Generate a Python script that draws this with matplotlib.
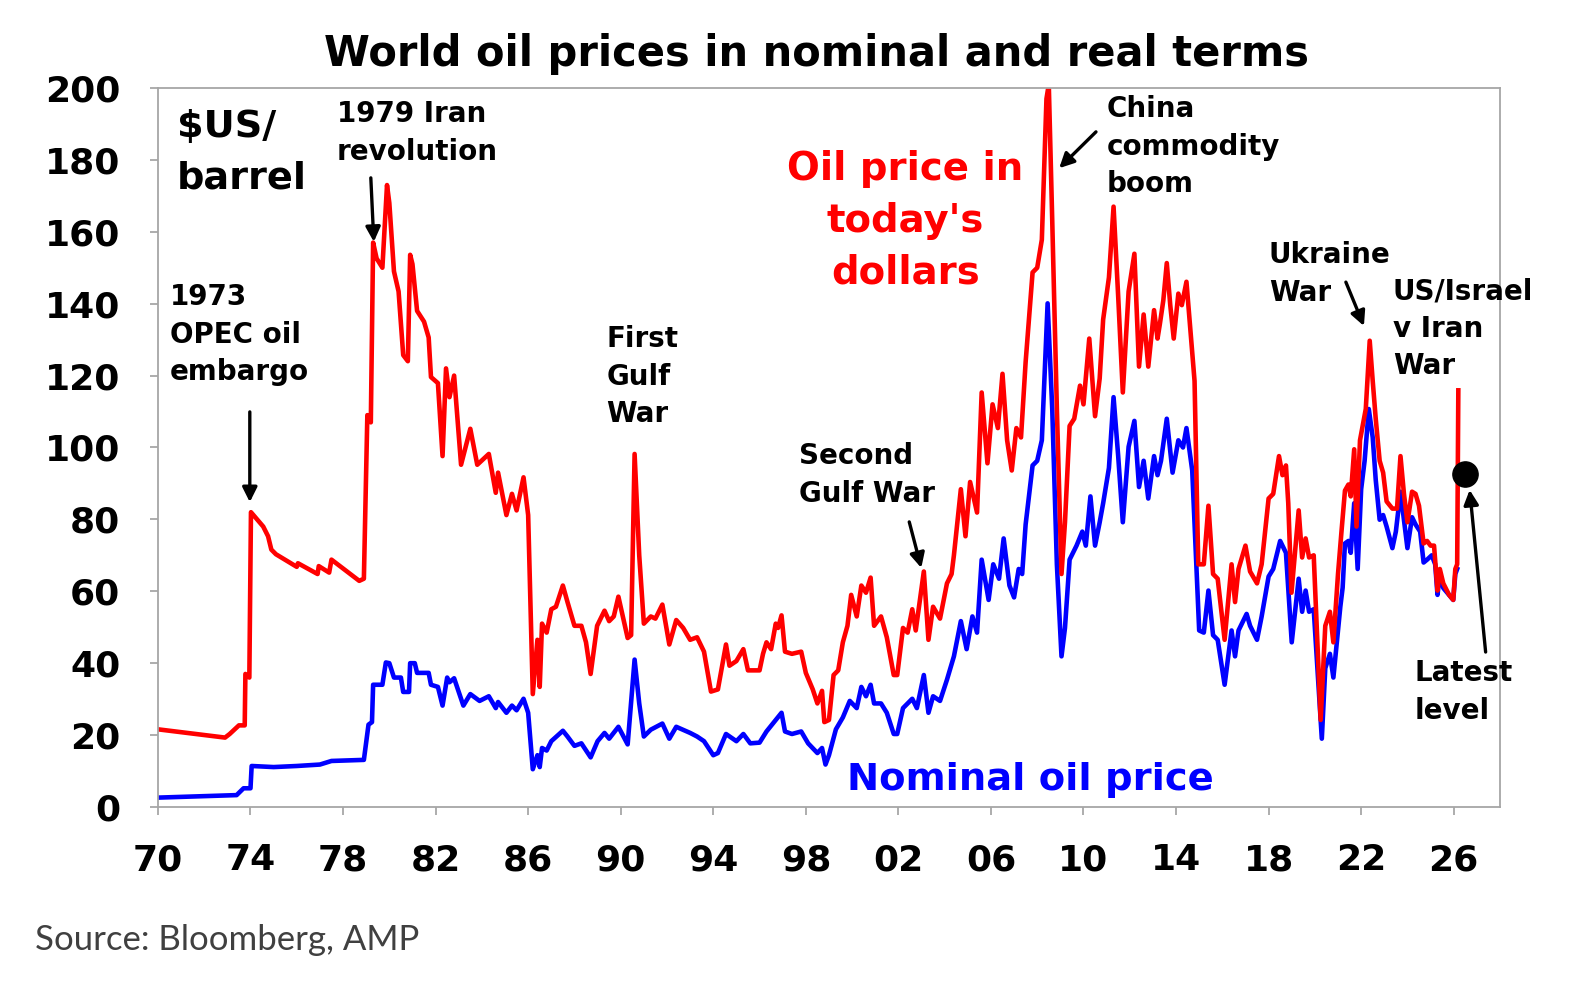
import matplotlib
matplotlib.use("Agg")
import matplotlib.pyplot as plt
import numpy as np

# oil price in today's dollars (red)
real_years = [1970.0, 1972.9, 1973.1, 1973.5, 1973.75, 1973.78, 1973.95, 1974.02, 1974.55, 1974.76,
              1974.9, 1975.1, 1976.0, 1976.05, 1976.9, 1976.95, 1977.4, 1977.5, 1978.7, 1978.9,
              1979.05, 1979.2, 1979.3, 1979.45, 1979.7, 1979.9, 1980.0, 1980.2, 1980.4, 1980.6,
              1980.8, 1980.9, 1981.0, 1981.2, 1981.5, 1981.7, 1981.8, 1982.1, 1982.3, 1982.45,
              1982.6, 1982.8, 1983.1, 1983.5, 1983.8, 1984.3, 1984.6, 1984.7, 1985.06, 1985.3,
              1985.5, 1985.8, 1986.0, 1986.2, 1986.4, 1986.5, 1986.6, 1986.8, 1987.0, 1987.2,
              1987.5, 1987.7, 1988.0, 1988.3, 1988.5, 1988.7, 1988.98, 1989.3, 1989.5, 1989.7,
              1989.9, 1990.3, 1990.45, 1990.6, 1990.8, 1991.0, 1991.3, 1991.5, 1991.8, 1992.1,
              1992.4, 1992.7, 1993.0, 1993.3, 1993.6, 1993.9, 1994.2, 1994.55, 1994.7, 1995.0,
              1995.3, 1995.5, 1996.0, 1996.15, 1996.3, 1996.5, 1996.7, 1996.8, 1996.95, 1997.1,
              1997.4, 1997.8, 1998.0, 1998.3, 1998.5, 1998.7, 1998.8, 1999.0, 1999.2, 1999.4,
              1999.6, 1999.8, 1999.96, 2000.2, 2000.4, 2000.6, 2000.8, 2000.95, 2001.25, 2001.5,
              2001.8, 2001.95, 2002.2, 2002.4, 2002.6, 2002.75, 2003.1, 2003.3, 2003.5, 2003.8,
              2004.1, 2004.3, 2004.4, 2004.7, 2004.9, 2005.1, 2005.4, 2005.6, 2005.85, 2006.07,
              2006.3, 2006.5, 2006.7, 2006.9, 2007.1, 2007.3, 2007.5, 2007.8, 2008.0, 2008.2,
              2008.4, 2008.5, 2008.65, 2008.85, 2009.05, 2009.2, 2009.4, 2009.6, 2009.85, 2010.0,
              2010.25, 2010.5, 2010.7, 2010.85, 2011.1, 2011.3, 2011.5, 2011.7, 2011.95, 2012.2,
              2012.4, 2012.6, 2012.8, 2013.05, 2013.2, 2013.3, 2013.45, 2013.6, 2013.75, 2013.9,
              2014.1, 2014.25, 2014.45, 2014.6, 2014.8, 2014.96, 2015.2, 2015.4, 2015.6, 2015.8,
              2016.1, 2016.4, 2016.55, 2016.7, 2017.0, 2017.2, 2017.5, 2017.7, 2018.0, 2018.2,
              2018.45, 2018.6, 2018.75, 2018.85, 2018.99, 2019.3, 2019.45, 2019.6, 2019.75, 2019.95,
              2020.25, 2020.45, 2020.65, 2020.8, 2021.0, 2021.15, 2021.3, 2021.45, 2021.55, 2021.7,
              2021.8, 2021.95, 2022.2, 2022.37, 2022.5, 2022.63, 2022.8, 2022.95, 2023.1, 2023.35,
              2023.55, 2023.7, 2023.85, 2024.0, 2024.2, 2024.35, 2024.5, 2024.7, 2024.85, 2025.0,
              2025.15, 2025.3, 2025.4, 2025.55, 2025.8, 2025.98, 2026.07, 2026.15, 2026.2]
real_price = [21.6, 19.3, 20.3, 22.7, 22.7, 37, 36, 82, 78, 75.3,
              71.6, 70.3, 66.8, 67.8, 64.8, 67, 65.2, 68.8, 62.9, 63.5,
              109, 107, 157, 152.6, 150, 173, 168, 149, 143.4, 125.7,
              124, 153.6, 151, 138, 135, 130.6, 119.6, 117.9, 97.6, 122,
              114, 120, 95.2, 105.2, 95.2, 98.2, 87.4, 93, 81.2, 87.1,
              82.5, 91.7, 81.2, 31.4, 46.5, 33.4, 51, 48.5, 55, 55.7,
              61.6, 57, 50.4, 50.4, 45.8, 37, 50.4, 54.6, 51.7, 53,
              58.5, 47, 47.8, 98.2, 70, 51, 53, 52.4, 56.3, 45.2,
              52, 49.8, 46.5, 47.2, 43.2, 32.1, 32.7, 45.2, 39.3, 40.6,
              43.9, 38, 38, 42.6, 45.8, 43.9, 51, 49.8, 53.3, 43.2,
              42.6, 43.2, 37.3, 32.7, 28.8, 32.3, 23.6, 24.2, 36.7, 38,
              45.8, 50.4, 59, 53, 61.6, 59.6, 63.8, 50.4, 53, 47.2,
              36.7, 36.7, 49.8, 48.5, 55, 49.1, 65.5, 46.5, 55.7, 52.4,
              62.2, 64.8, 70, 88.4, 75.3, 90.4, 81.9, 115.3, 95.6, 112,
              105.4, 120.5, 102, 93.6, 105.4, 102.8, 123.8, 148.7, 150, 157.8,
              197, 201, 163, 110.7, 64.8, 79.2, 106, 108, 117.2, 112,
              130.3, 108.7, 119.2, 135.6, 147.3, 167, 142, 115.3, 143.4, 153.9,
              122.5, 137, 122.5, 138.2, 130.3, 134.3, 140.9, 151.3, 139.6, 130.3,
              142.8, 139.6, 146.1, 134.3, 118.5, 67.5, 67.5, 83.8, 64.8, 63.5,
              46.5, 67.5, 57, 66.2, 72.7, 65.5, 62.2, 67.5, 85.8, 87.1,
              97.6, 92.3, 95, 84.5, 59.6, 82.5, 69.4, 74.7, 69.4, 70,
              24.2, 50.4, 54.3, 45.8, 64.8, 76.6, 88, 89.7, 86.4, 99.5,
              78, 102, 110.7, 129.7, 118.5, 108, 96.3, 93, 85, 83,
              83, 97.6, 87.1, 79.2, 87.7, 87.1, 83.8, 73.3, 74, 72.7,
              72.7, 60.2, 66.2, 62.2, 59, 57.6, 66.2, 67.5, 115.9]

# nominal oil price (blue)
nom_years = [1970.0, 1973.4, 1973.7, 1974.0, 1974.05, 1975.0, 1976.0, 1977.0, 1977.5, 1978.9,
             1979.1, 1979.25, 1979.3, 1979.7, 1979.85, 1980.0, 1980.2, 1980.5, 1980.6, 1980.85,
             1980.9, 1981.1, 1981.2, 1981.7, 1981.8, 1982.1, 1982.3, 1982.5, 1982.6, 1982.8,
             1983.2, 1983.5, 1983.9, 1984.3, 1984.6, 1984.7, 1985.06, 1985.3, 1985.5, 1985.8,
             1986.0, 1986.2, 1986.4, 1986.5, 1986.6, 1986.8, 1987.0, 1987.5, 1987.7, 1988.0,
             1988.3, 1988.7, 1989.0, 1989.3, 1989.5, 1989.9, 1990.3, 1990.6, 1990.8, 1991.0,
             1991.3, 1991.8, 1992.1, 1992.4, 1993.0, 1993.3, 1993.6, 1994.0, 1994.2, 1994.55,
             1995.0, 1995.3, 1995.6, 1996.0, 1996.3, 1996.7, 1996.95, 1997.1, 1997.4, 1997.8,
             1998.1, 1998.5, 1998.7, 1998.85, 1999.0, 1999.3, 1999.6, 1999.9, 2000.2, 2000.4,
             2000.6, 2000.8, 2000.95, 2001.25, 2001.5, 2001.8, 2001.95, 2002.2, 2002.6, 2002.8,
             2003.1, 2003.3, 2003.5, 2003.8, 2004.1, 2004.4, 2004.7, 2004.95, 2005.2, 2005.4,
             2005.6, 2005.9, 2006.1, 2006.35, 2006.55, 2006.8, 2007.0, 2007.2, 2007.35, 2007.5,
             2007.8, 2008.0, 2008.2, 2008.45, 2008.65, 2008.85, 2009.05, 2009.2, 2009.4, 2009.7,
             2009.95, 2010.1, 2010.3, 2010.5, 2010.7, 2010.85, 2011.1, 2011.3, 2011.5, 2011.7,
             2011.95, 2012.2, 2012.4, 2012.6, 2012.8, 2013.05, 2013.2, 2013.35, 2013.6, 2013.85,
             2014.1, 2014.3, 2014.45, 2014.7, 2015.0, 2015.2, 2015.4, 2015.6, 2015.8, 2016.1,
             2016.4, 2016.55, 2016.7, 2017.05, 2017.2, 2017.5, 2017.7, 2018.0, 2018.2, 2018.5,
             2018.75, 2019.0, 2019.3, 2019.45, 2019.6, 2019.75, 2019.95, 2020.3, 2020.45, 2020.65,
             2020.8, 2021.1, 2021.2, 2021.3, 2021.45, 2021.55, 2021.7, 2021.85, 2022.0, 2022.15,
             2022.33, 2022.5, 2022.63, 2022.8, 2022.95, 2023.1, 2023.35, 2023.5, 2023.7, 2023.85,
             2024.0, 2024.2, 2024.35, 2024.55, 2024.7, 2024.85, 2025.05, 2025.2, 2025.3, 2025.4,
             2025.55, 2025.8, 2025.98, 2026.07, 2026.15]
nom_price = [2.6, 3.3, 5.2, 5.2, 11.4, 11.1, 11.4, 11.8, 12.8, 13.1,
             22.9, 23.6, 34, 34, 40.2, 40, 36, 36, 32, 32,
             40, 40, 37.3, 37.3, 34, 33.4, 28.2, 36, 34.7, 35.8,
             28.2, 31.4, 29.5, 30.8, 27.5, 29.2, 26.2, 28.2, 26.9, 30.1,
             26.2, 10.5, 14.4, 11.1, 16.4, 15.7, 18.3, 21.2, 19.6, 17,
             17.7, 13.8, 18.3, 20.6, 19, 22.3, 17.4, 41, 28.8, 19.6,
             21.5, 23.2, 19, 22.3, 20.6, 19.6, 18.3, 14.4, 15, 20.3,
             18.3, 20.3, 17.7, 17.9, 21, 24.2, 26.2, 21, 20.3, 21,
             17.7, 15, 16.4, 11.8, 14.4, 21.6, 24.9, 29.5, 27.5, 33.4,
             30.8, 34, 28.8, 28.8, 26.2, 20.3, 20.3, 27.5, 30.1, 27.5,
             36.7, 26.2, 30.8, 29.5, 35.4, 41.9, 51.7, 43.9, 53, 48.5,
             68.8, 57.6, 67.5, 63.5, 74.7, 61.6, 58.3, 66.2, 64.8, 78.6,
             95, 96.3, 102, 140.1, 110.7, 67.5, 41.9, 49.8, 68.8, 72.7,
             76.6, 72.7, 86.4, 72.7, 79.2, 84.5, 94.3, 114, 97.6, 79.2,
             100.2, 107.4, 89, 96.3, 85.8, 97.6, 92.3, 96.3, 108, 93,
             102, 100, 105.4, 93.6, 49.1, 48.5, 60.2, 47.8, 46.5, 34,
             49.1, 41.9, 49.1, 53.7, 50.4, 46.5, 53, 64.1, 66.2, 74,
             70.7, 45.8, 63.5, 54.3, 60.2, 54.3, 55, 19, 38.6, 42.6,
             36, 55.7, 61, 73.3, 74, 70.7, 84.5, 66.2, 88.4, 96.3,
             110.7, 102.8, 91, 79.9, 81.2, 78, 72, 76.6, 87.7, 79.9,
             72, 80.6, 78.6, 76.6, 68, 68.8, 70, 67.5, 59, 64.8,
             60.9, 59, 57.6, 64.8, 66.2]

latest_year = 2026.5
latest_level = 92.5

bold = {"family": "DejaVu Sans", "weight": "bold"}

fig = plt.figure(figsize=(15.7, 9.91), dpi=100)
ax = fig.add_axes([0.1006, 0.1857, 0.8548, 0.7255])

ax.plot(nom_years, nom_price, color="#0000FF", lw=3.3, solid_joinstyle="round")
ax.plot(real_years, real_price, color="#FF0000", lw=3.3, solid_joinstyle="round")
ax.scatter([latest_year], [latest_level], s=330, color="black", zorder=5, clip_on=False)

ax.set_xlim(1970, 2028)
ax.set_ylim(0, 200)
ax.set_xticks(np.arange(1970, 2027, 4))
ax.set_xticklabels(["%02d" % (y % 100) for y in range(1970, 2027, 4)], fontdict=bold, fontsize=26)
ax.set_yticks(np.arange(0, 201, 20))
ax.set_yticklabels([str(v) for v in range(0, 201, 20)], fontdict=bold, fontsize=26)
ax.tick_params(axis="both", direction="out", length=6, width=1.2, color="#A0A0A0")
ax.tick_params(axis="x", pad=20)
ax.tick_params(axis="y", pad=21)
for s in ax.spines.values():
    s.set_color("#A6A6A6")
    s.set_linewidth(1.3)

fig.text(0.52, 0.946, "World oil prices in nominal and real terms", ha="center", va="center",
         fontsize=30, **bold)
fig.text(0.0223, 0.0515, "Source: Bloomberg, AMP", ha="left", va="center", fontsize=25,
         family="Lato", color="#404040")

ax.text(1970.82, 194.1, "$US/\nbarrel", ha="left", va="top", fontsize=27.5, linespacing=1.55, **bold)
ax.text(2002.3, 182.8, "Oil price in\ntoday's\ndollars", ha="center", va="top", fontsize=27.8,
        linespacing=1.46, color="#FF0000", **bold)
ax.text(1999.79, 7.5, "Nominal oil price", ha="left", va="center", fontsize=27.7,
        color="#0000FF", **bold)

labels = [
    (1977.73, 196.7, "1979 Iran\nrevolution"),
    (1970.52, 145.8, "1973\nOPEC oil\nembargo"),
    (1989.39, 134.1, "First\nGulf\nWar"),
    (1997.72, 101.5, "Second\nGulf War"),
    (2011.02, 198.1, "China\ncommodity\nboom"),
    (2018.01, 157.4, "Ukraine\nWar"),
    (2023.37, 147.4, "US/Israel\nv Iran\nWar"),
    (2024.32, 41.2, "Latest\nlevel"),
]
for x, y, t in labels:
    ax.text(x, y, t, ha="left", va="top", fontsize=20, linespacing=1.44, clip_on=False, **bold)

arrows = [
    ((1973.97, 109.9), (1973.97, 84.8)),
    ((1979.20, 175.0), (1979.33, 157.2)),
    ((2002.47, 79.3), (2002.99, 66.5)),
    ((2010.54, 187.8), (2008.95, 177.7)),
    ((2021.34, 146.0), (2022.12, 133.8)),
    ((2027.38, 43.1), (2026.69, 88.2)),
]
for start, end in arrows:
    ax.annotate("", xy=end, xytext=start,
                arrowprops=dict(arrowstyle="-|>", color="black", lw=2.4, mutation_scale=22,
                                shrinkA=0, shrinkB=0),
                annotation_clip=False)

fig.savefig("out.png", dpi=100)
